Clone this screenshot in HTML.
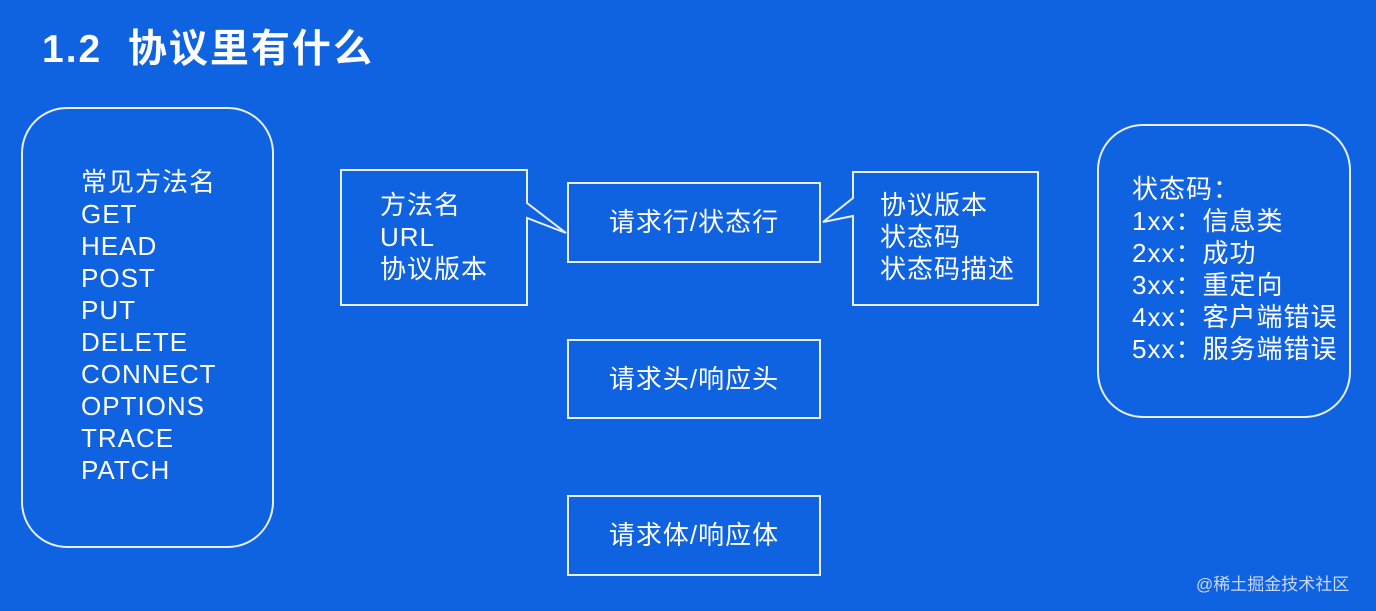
<html><head><style>
body{margin:0;width:1376px;height:611px;background:#0f62e0;overflow:hidden;position:relative;font-family:"Liberation Sans","Noto Sans CJK SC",sans-serif;color:#fff}
.a{position:absolute}
.t{font-size:26px;line-height:32px;letter-spacing:1px}
</style></head><body>
<div class="a" style="left:42px;top:24px;font-size:39px;font-weight:bold;line-height:52px;letter-spacing:2px">1.2&nbsp; 协议里有什么</div>
<svg class="a" style="left:0;top:0" width="1376" height="611">
<g fill="none" stroke="#e8efff" stroke-width="2">
<rect x="22" y="108" width="251" height="439" rx="45"/>
<rect x="1098" y="125" width="252" height="292" rx="45"/>
<rect x="568" y="183" width="252" height="79"/>
<rect x="568" y="340" width="252" height="78"/>
<rect x="568" y="496" width="252" height="79"/>
<path d="M527 203 L527 170 L341 170 L341 305 L527 305 L527 218 L566 233 Z" fill="#0f62e0"/>
<path d="M853 198 L853 172 L1038 172 L1038 305 L853 305 L853 216 L823 222 Z" fill="#0f62e0"/>
</g>
</svg>
<div class="a t" style="left:81px;top:166px">常见方法名<br>GET<br>HEAD<br>POST<br>PUT<br>DELETE<br>CONNECT<br>OPTIONS<br>TRACE<br>PATCH</div>
<div class="a t" style="left:380px;top:189px">方法名<br>URL<br>协议版本</div>
<div class="a t" style="left:880px;top:189px">协议版本<br>状态码<br>状态码描述</div>
<div class="a t" style="left:568px;width:252px;text-align:center;top:206px">请求行/状态行</div>
<div class="a t" style="left:568px;width:252px;text-align:center;top:363px">请求头/响应头</div>
<div class="a t" style="left:568px;width:252px;text-align:center;top:519px">请求体/响应体</div>
<div class="a t" style="left:1132px;top:173px">状态码：<br>1xx：信息类<br>2xx：成功<br>3xx：重定向<br>4xx：客户端错误<br>5xx：服务端错误</div>
<div class="a" style="left:1196px;top:570px;font-size:17px;color:#c9d8f5">@稀土掘金技术社区</div>
</body></html>
